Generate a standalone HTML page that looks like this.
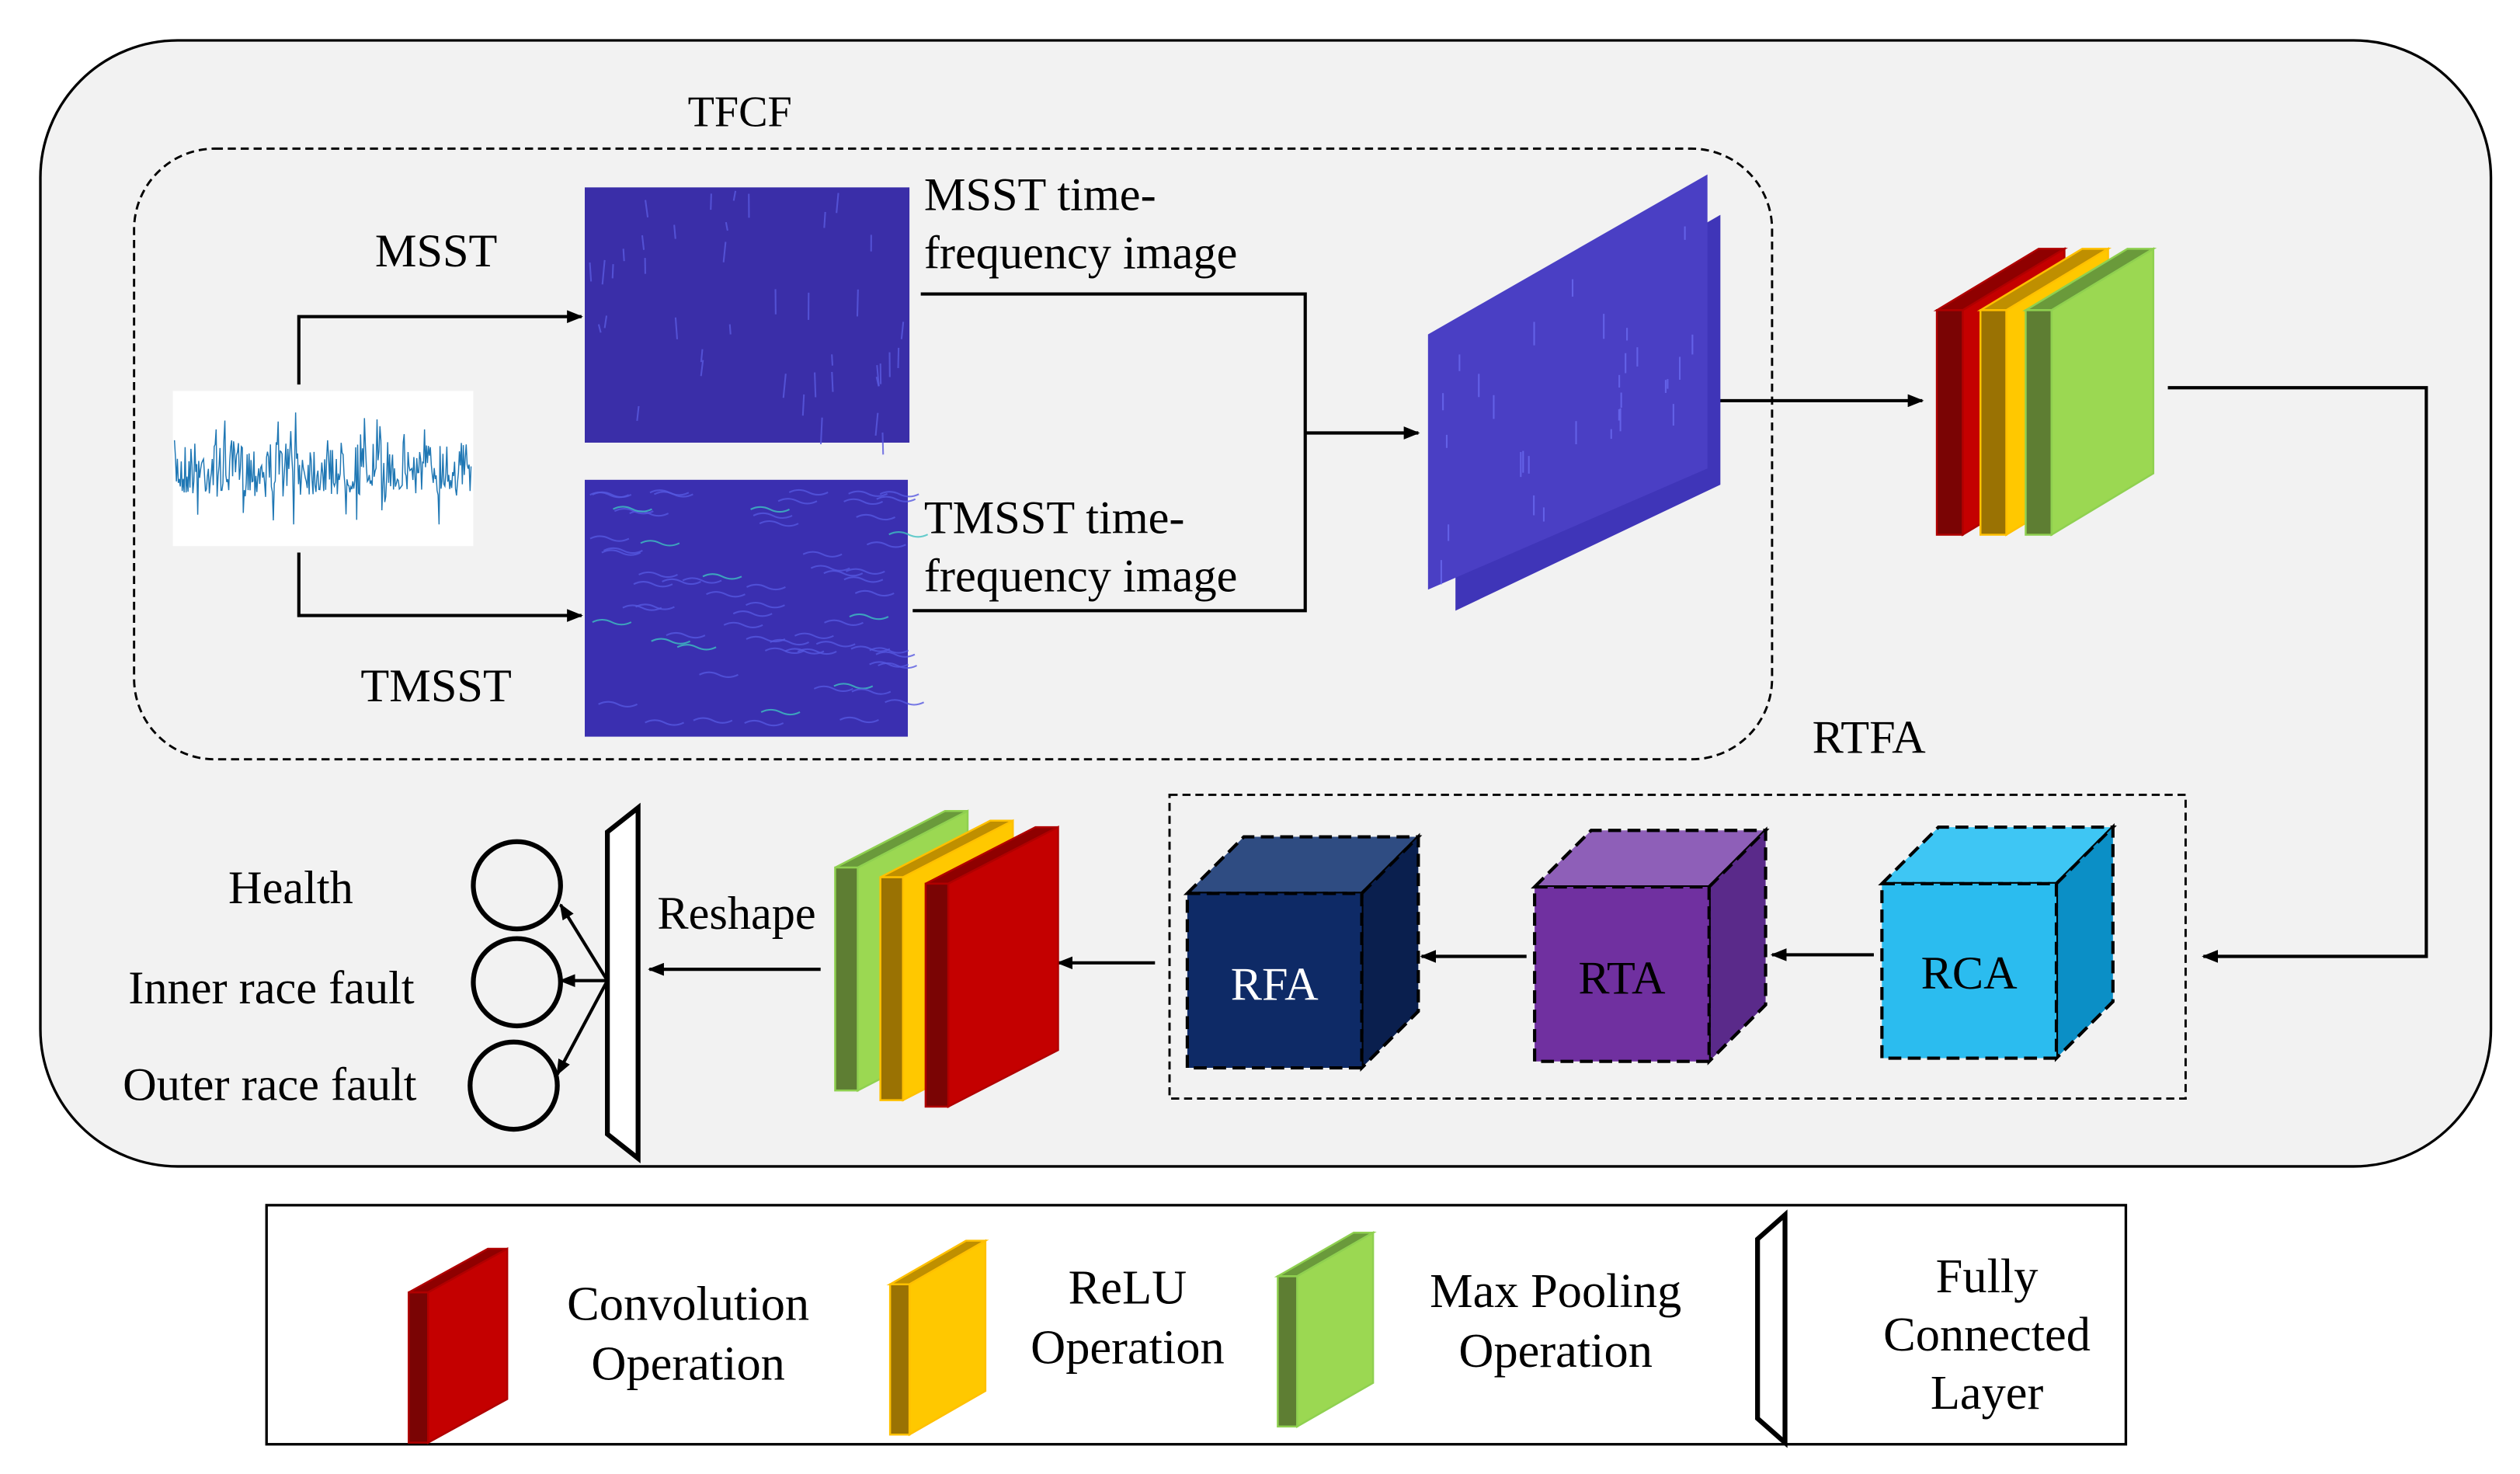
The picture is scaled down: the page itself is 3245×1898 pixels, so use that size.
<!DOCTYPE html>
<html><head><meta charset="utf-8"><style>
html,body{margin:0;padding:0;background:#fff}
svg{display:block}
text{font-family:"Liberation Serif",serif;fill:#000}
</style></head><body>
<svg id="s" width="3245" height="1898" viewBox="0 0 1560 912.4" preserveAspectRatio="none" xmlns="http://www.w3.org/2000/svg">
<defs>
<marker id="a" markerWidth="10" markerHeight="8" refX="9" refY="4" orient="auto" markerUnits="userSpaceOnUse"><path d="M0,0 L10,4 L0,8 z" fill="#000"/></marker>
</defs>
<rect x="0" y="0" width="1560" height="912.4" fill="#fff"/>
<rect x="25" y="25" width="1517" height="697" rx="85" fill="#f2f2f2" stroke="#000" stroke-width="1.6"/>
<text x="458" y="78" font-size="27" text-anchor="middle">TFCF</text>
<rect x="83" y="92" width="1014" height="378" rx="50" fill="none" stroke="#000" stroke-width="1.4" stroke-dasharray="5,3"/>
<rect x="107" y="242" width="186" height="96" fill="#fff"/>
<g id="sig"></g>
<text x="270" y="165" font-size="29" text-anchor="middle">MSST</text>
<text x="270" y="434" font-size="29" text-anchor="middle">TMSST</text>
<g fill="none" stroke="#000" stroke-width="2">
<polyline points="185,238 185,196 360,196" marker-end="url(#a)"/>
<polyline points="185,342 185,381 360,381" marker-end="url(#a)"/>
<polyline points="570,182 808,182 808,378 565,378"/>
<line x1="808" y1="268" x2="878" y2="268" marker-end="url(#a)"/>
<line x1="1050" y1="248" x2="1190" y2="248" marker-end="url(#a)"/>
<polyline points="1342,240 1502,240 1502,592 1364,592" marker-end="url(#a)"/>
<line x1="1160" y1="591" x2="1097" y2="591" marker-end="url(#a)"/>
<line x1="945" y1="592" x2="880" y2="592" marker-end="url(#a)"/>
<line x1="715" y1="596" x2="655" y2="596" marker-end="url(#a)"/>
<line x1="508" y1="600" x2="402" y2="600" marker-end="url(#a)"/>
<line x1="376" y1="607" x2="347" y2="560" marker-end="url(#a)"/>
<line x1="376" y1="607" x2="347" y2="607" marker-end="url(#a)"/>
<line x1="376" y1="607" x2="345" y2="665" marker-end="url(#a)"/>
</g>
<rect x="362" y="116" width="201" height="158" fill="#3a2ea8"/>
<rect x="362" y="297" width="200" height="159" fill="#3a2fb0"/>
<g id="sp"></g>
<text x="572" y="130" font-size="29">MSST time-</text>
<text x="572" y="166" font-size="29">frequency image</text>
<text x="572" y="330" font-size="29">TMSST time-</text>
<text x="572" y="366" font-size="29">frequency image</text>
<polygon points="901,228 1065,133 1065,300 901,378" fill="#3f35b8"/>
<polygon points="884,207 1057,108 1057,290 884,365" fill="#4a3fc4"/>
<g id="sp2"></g>
<text x="1157" y="466" font-size="29" text-anchor="middle">RTFA</text>
<rect x="724" y="492" width="629" height="188" fill="none" stroke="#000" stroke-width="1.4" stroke-dasharray="5,3"/>
<g id="shapes"></g>
<text x="1219" y="612" font-size="29" text-anchor="middle" fill="#000">RCA</text>
<text x="1004" y="615" font-size="29" text-anchor="middle" fill="#000">RTA</text>
<text x="789" y="619" font-size="29" text-anchor="middle" style="fill:#fff">RFA</text>
<text x="456" y="575" font-size="29" text-anchor="middle">Reshape</text>
<polygon points="376,515 395,500 395,717 376,702" fill="#fff" stroke="#000" stroke-width="3"/>
<circle cx="320" cy="548" r="27" fill="none" stroke="#000" stroke-width="3"/>
<circle cx="320" cy="608" r="27" fill="none" stroke="#000" stroke-width="3"/>
<circle cx="318" cy="672" r="27" fill="none" stroke="#000" stroke-width="3"/>
<text x="180" y="559" font-size="29" text-anchor="middle">Health</text>
<text x="168" y="621" font-size="29" text-anchor="middle">Inner race fault</text>
<text x="167" y="681" font-size="29" text-anchor="middle">Outer race fault</text>
<rect x="165" y="746" width="1151" height="148" fill="#fff" stroke="#000" stroke-width="1.6"/>
<g id="leg"></g>
<text x="426" y="817" font-size="30" text-anchor="middle">Convolution</text>
<text x="426" y="854" font-size="30" text-anchor="middle">Operation</text>
<text x="698" y="807" font-size="30" text-anchor="middle">ReLU</text>
<text x="698" y="844" font-size="30" text-anchor="middle">Operation</text>
<text x="963" y="809" font-size="30" text-anchor="middle">Max Pooling</text>
<text x="963" y="846" font-size="30" text-anchor="middle">Operation</text>
<text x="1230" y="800" font-size="30" text-anchor="middle">Fully</text>
<text x="1230" y="836" font-size="30" text-anchor="middle">Connected</text>
<text x="1230" y="872" font-size="30" text-anchor="middle">Layer</text>
<polygon points="1088,767 1105,752 1105,893 1088,878" fill="#fff" stroke="#000" stroke-width="3"/>
</svg>
<script>
var NS="http://www.w3.org/2000/svg";
function el(p,t,a){var e=document.createElementNS(NS,t);for(var k in a)e.setAttribute(k,a[k]);p.appendChild(e);return e;}
var seed=7;function r(){seed=(seed*16807)%2147483647;return seed/2147483647;}
var pts=[];for(var x=108;x<=292;x+=0.6){var amp=(r()-0.5)*(r()<0.1?70:35);pts.push(x+","+(290+amp).toFixed(1));}
el(document.getElementById("sig"),"polyline",{points:pts.join(" "),fill:"none",stroke:"#1f77b4","stroke-width":0.7});
var sp=document.getElementById("sp");
for(var i=0;i<40;i++){var x=364+r()*196,y=118+r()*150;el(sp,"line",{x1:x,y1:y,x2:x+(r()-0.5)*3,y2:y+5+r()*12,stroke:"#5a5ae0","stroke-width":1,opacity:0.8});}
for(var i=0;i<70;i++){var x=364+r()*190,y=300+r()*152;el(sp,"path",{d:"M"+x+","+y+" q6,-3 12,0 t12,0",fill:"none",stroke:r()<0.1?"#3fc0c0":"#5558e0","stroke-width":1,opacity:0.8});}
var sp2=document.getElementById("sp2");
for(var i=0;i<30;i++){var x=890+r()*160,y=(207-(x-884)*0.57)+10+r()*140;el(sp2,"line",{x1:x,y1:y,x2:x,y2:y+6+r()*10,stroke:"#6a6af0","stroke-width":1,opacity:0.8});}
var g=document.getElementById("shapes");
function slab(x0,y0,t,w,dy,h,dark,front,top,edge,gg){
 gg=gg||g;
 el(gg,"polygon",{points:[x0,y0,x0+w,y0+dy,x0+t+w,y0+dy,x0+t,y0].join(","),fill:top,stroke:edge,"stroke-width":1.2});
 el(gg,"polygon",{points:[x0+t,y0,x0+t+w,y0+dy,x0+t+w,y0+dy+h,x0+t,y0+h].join(","),fill:front,stroke:edge,"stroke-width":1.2});
 el(gg,"rect",{x:x0,y:y0,width:t,height:h,fill:dark,stroke:edge,"stroke-width":1.2});
}
var R=["#7a0404","#c40000","#8f0000","#b00000"],Y=["#9a7203","#ffc800","#bf8f00","#ffc000"],G=["#5e7e33","#9bd852","#6a9a3b","#8fd050"];
function trio(xs,y0s,t,w,dy,h,order){order.forEach(function(c,i){slab(xs[i],y0s[i],t,w,dy,h,c[0],c[1],c[2],c[3]);});}
trio([1199,1226,1254],[192,192,192],16,63,-38,139,[R,Y,G]);
trio([517,545,573],[537,543,547],14,68,-35,138,[G,Y,R]);
var lg=document.getElementById("leg");
slab(253,800,12,49,-27,93,R[0],R[1],R[2],R[3],lg);
slab(551,795,12,47,-27,93,Y[0],Y[1],Y[2],Y[3],lg);
slab(791,790,12,47,-27,93,G[0],G[1],G[2],G[3],lg);
function cube(x,y,s,d,front,top,side){
 var a={stroke:"#000","stroke-width":2,"stroke-dasharray":"8,4"};
 function p(pts,f){var o={points:pts.join(","),fill:f};for(var k in a)o[k]=a[k];el(g,"polygon",o);}
 p([x,y,x+d,y-d,x+s+d,y-d,x+s,y],top);
 p([x+s,y,x+s+d,y-d,x+s+d,y+s-d,x+s,y+s],side);
 p([x,y,x+s,y,x+s,y+s,x,y+s],front);
}
cube(1165,547,108,35,"#2bbcef","#3ec6f4","#0b8fc6");
cube(950,549,108,35,"#7030a0","#8e5fb8","#5a2a8a");
cube(735,553,108,35,"#0e2a66","#2f4c82","#0a1f4e");
</script>
</body></html>
